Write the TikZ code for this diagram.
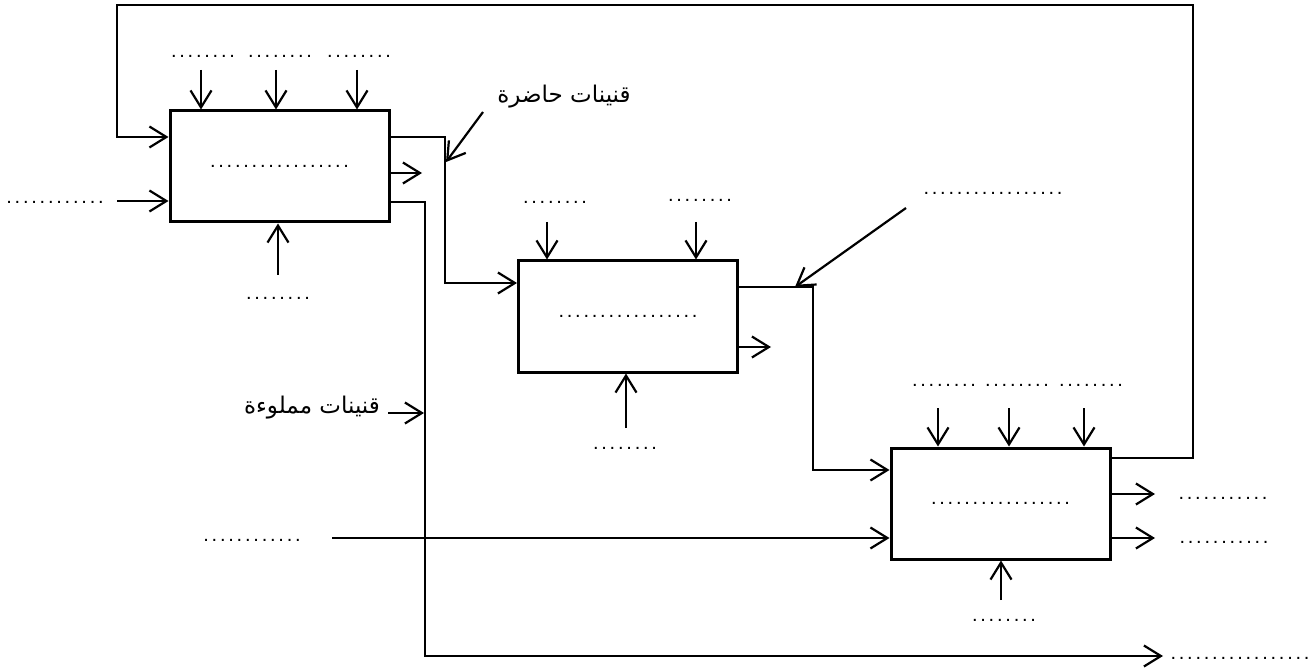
\documentclass[tikz,border=0pt]{standalone}
\usepackage{fontspec}
\usetikzlibrary{arrows.meta,calc}
\TeXXeTstate=1
\newfontfamily\arabicfont[Script=Arabic]{DejaVu Sans}
\newfontfamily\dotfam[LetterSpace=13.9]{Liberation Sans}
\newcommand\dotsfnt{\dotfam\fontsize{20}{24}\selectfont}
\begin{document}
\begin{tikzpicture}[x=1pt,y=-1pt,
  box/.style={draw, line width=3pt, minimum width=219pt, minimum height=111pt, inner sep=0pt, font=\dotsfnt},
  arr/.style={line width=2.2pt, -{Straight Barb[length=17pt,width=21pt]}},
  dots/.style={font=\dotsfnt, inner sep=0pt, anchor=base},
  arlabel/.style={font=\arabicfont\fontsize{23}{27}\selectfont, inner sep=0pt}]
\path[use as bounding box, fill=white] (0,0) rectangle (1314,668);

% boxes
\node[box] (b1) at (279.5,166.5) {.................};
\node[box] (b2) at (628,316.5) {.................};
\node[box] (b3) at (1000.5,503.5) {.................};

% ---- box 1 ----
\node[dots] (l1a) at (203,58) {........};
\node[dots] (l1b) at (280,58) {........};
\node[dots] (l1c) at (359,58) {........};
\coordinate (t1a) at (201,70);
\coordinate (t1b) at (276,70);
\coordinate (t1c) at (357,70);
\draw[arr] (t1a) -- (t1a |- b1.north);
\draw[arr] (t1b) -- (t1b |- b1.north);
\draw[arr] (t1c) -- (t1c |- b1.north);

\node[dots] (lin1) at (55,204) {............};
\coordinate (in1) at (117,201);
\draw[arr] (in1) -- (in1 -| b1.west);

\node[dots] (lu1) at (278,299) {........};
\coordinate (u1) at (278,275);
\draw[arr] (u1) -- (u1 |- b1.south);

% feedback loop
\coordinate (fb1) at (1193,458);
\coordinate (fb2) at (1193,5);
\coordinate (fb3) at (117,5);
\coordinate (fb4) at (117,137);
\draw[arr] (b3.east |- fb1) -- (fb1) -- (fb2) -- (fb3) -- (fb4) -- (fb4 -| b1.west);

% outputs of box 1
\coordinate (o1a) at (445,137);
\coordinate (o1b) at (445,283);
\draw[arr] (o1a -| b1.east) -- (o1a) -- (o1b) -- (o1b -| b2.west);
\coordinate (o1m) at (422,173);
\draw[arr] (o1m -| b1.east) -- (o1m);
\coordinate (o1c) at (425,202);
\coordinate (o1d) at (425,656);
\coordinate (o1e) at (1163,656);
\draw[arr] (o1c -| b1.east) -- (o1c) -- (o1d) -- (o1e);
\node[dots] (lout) at (1240,659) {.................};

\node[arlabel] (lh) at (564,97) {\beginR قنينات حاضرة\endR};
\coordinate (lha) at (483,112);
\coordinate (lhb) at (446,162);
\draw[arr] (lha) -- (lhb);

\node[arlabel] (lm) at (312,408) {\beginR قنينات مملوءة\endR};
\coordinate (lma) at (388,413);
\coordinate (lmb) at (424,413);
\draw[arr] (lma) -- (lmb);

% ---- box 2 ----
\node[dots] (l2a) at (555,204) {........};
\node[dots] (l2b) at (700,202) {........};
\coordinate (t2a) at (547,222);
\coordinate (t2b) at (696,222);
\draw[arr] (t2a) -- (t2a |- b2.north);
\draw[arr] (t2b) -- (t2b |- b2.north);

\coordinate (o2a) at (813,287);
\coordinate (o2b) at (813,470);
\draw[arr] (o2a -| b2.east) -- (o2a) -- (o2b) -- (o2b -| b3.west);
\coordinate (o2m) at (771,347);
\draw[arr] (o2m -| b2.east) -- (o2m);

\node[dots] (l2r) at (993,195) {.................};
\coordinate (r2a) at (906,208);
\coordinate (r2b) at (795,287);
\draw[arr] (r2a) -- (r2b);

\node[dots] (lu2) at (625,449) {........};
\coordinate (u2) at (626,428);
\draw[arr] (u2) -- (u2 |- b2.south);

% ---- box 3 ----
\node[dots] (l3a) at (944,386) {........};
\node[dots] (l3b) at (1017,386) {........};
\node[dots] (l3c) at (1091,386) {........};
\coordinate (t3a) at (938,408);
\coordinate (t3b) at (1009,408);
\coordinate (t3c) at (1084,408);
\draw[arr] (t3a) -- (t3a |- b3.north);
\draw[arr] (t3b) -- (t3b |- b3.north);
\draw[arr] (t3c) -- (t3c |- b3.north);

\node[dots] (lin3) at (252,541) {............};
\coordinate (in3) at (332,538);
\draw[arr] (in3) -- (in3 -| b3.west);

\coordinate (o3a) at (1155,494);
\coordinate (o3b) at (1155,538);
\draw[arr] (o3a -| b3.east) -- (o3a);
\draw[arr] (o3b -| b3.east) -- (o3b);
\node[dots] (l3r1) at (1223,499) {...........};
\node[dots] (l3r2) at (1224,543) {...........};

\node[dots] (lu3) at (1004,621) {........};
\coordinate (u3) at (1001,600);
\draw[arr] (u3) -- (u3 |- b3.south);
\end{tikzpicture}
\end{document}
